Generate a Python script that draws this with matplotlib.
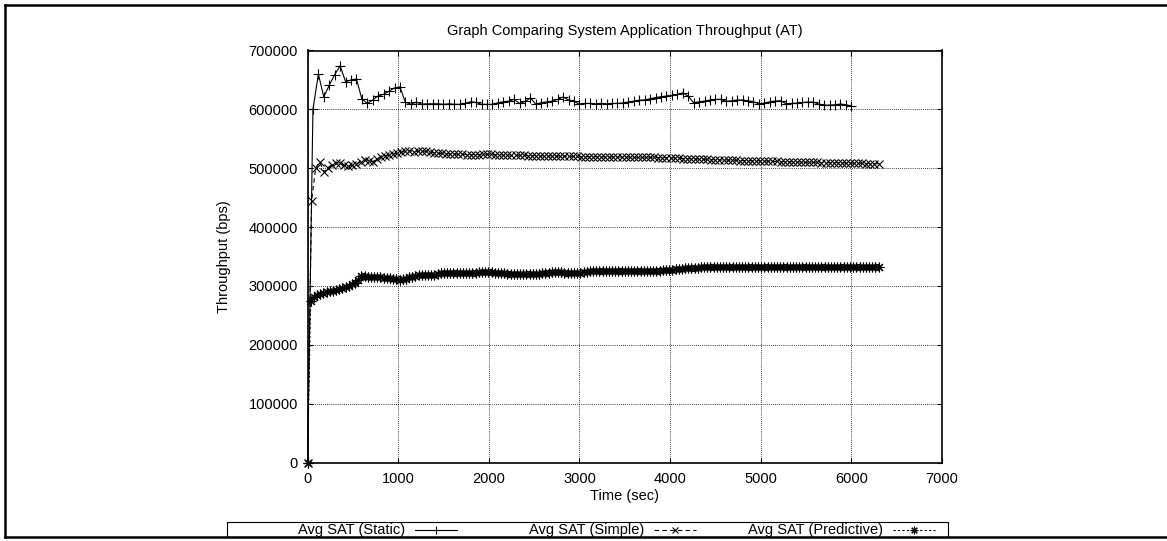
import matplotlib
matplotlib.use("Agg")
import matplotlib.pyplot as plt
import numpy as np
from matplotlib.lines import Line2D
from matplotlib.patches import Rectangle
from matplotlib.ticker import MultipleLocator, FuncFormatter

plt.rcParams['font.family'] = ['Liberation Sans', 'DejaVu Sans']
plt.rcParams['font.size'] = 10.5

# sampling step (sec) of each series
static_step = 60
simple_step = 45
pred_step = 35

# Avg SAT (Static), bps
static_bps = [
    0, 600000, 660000, 621000, 641000, 659000, 674000, 647000, 650000, 651500,
    617500, 610000, 616000, 623000, 625500, 631000, 636500, 638000, 612000, 609000,
    612000, 609000, 609500, 609500, 609500, 608500, 609500, 608500, 608500, 610000,
    613000, 611800, 608500, 608500, 608500, 611000, 613000, 614000, 617000, 610000,
    613500, 619500, 608500, 611500, 612500, 614000, 617000, 621000, 616000, 614000,
    608500, 610000, 610000, 609000, 610000, 608500, 610000, 610000, 611000, 612500,
    614000, 615500, 616000, 618000, 620000, 621500, 622600, 623700, 625400, 628000,
    622500, 611200, 612900, 614000, 615800, 617000, 617000, 613500, 614700, 615800,
    615800, 614700, 612900, 609500, 610600, 612900, 614000, 614700, 609500, 610100,
    610600, 611800, 612400, 612400, 609000, 607200, 607200, 607800, 609000, 607800,
    605500,
]

# Avg SAT (Simple), bps
simple_bps = [
    0, 445000, 500000, 511000, 494000, 501000, 506000, 509000, 509000, 505000,
    503000, 505000, 507000, 511000, 514000, 512000, 511000, 516000, 519000, 521000,
    522000, 524000, 525000, 527000, 529000, 530000, 528000, 529000, 528500, 529000,
    528000, 526000, 525500, 525000, 524500, 524000, 524000, 523500, 523500, 523000,
    523000, 523000, 523000, 523500, 524000, 523500, 523000, 523000, 522500, 522500,
    522000, 522000, 522000, 522000, 521500, 521500, 521500, 521000, 521000, 521000,
    521000, 520500, 520500, 520500, 520500, 520000, 520000, 519500, 519500, 519500,
    519500, 519500, 519500, 519000, 519000, 519000, 519000, 519000, 519000, 518500,
    518500, 518500, 518500, 518500, 518500, 518500, 518000, 518000, 518000, 518000,
    517500, 517000, 516500, 516000, 516000, 515500, 515500, 515000, 515000, 514500,
    514500, 514000, 514000, 514000, 513500, 513500, 513000, 513000, 513000, 512500,
    512500, 512500, 512000, 512000, 511500, 511500, 511000, 511000, 511000, 510500,
    510500, 510500, 510000, 510000, 510000, 510000, 509500, 509500, 509500, 509500,
    509500, 509000, 509000, 509000, 508500, 508500, 508500, 508000, 508000, 508000,
    507500,
]

# Avg SAT (Predictive), bps
pred_bps = [
    0, 275000, 281000, 284000, 286000, 288000, 289500, 291000, 292000, 293500,
    294500, 296000, 297500, 300000, 302500, 305000, 310000, 316500, 317000, 316000,
    315500, 315000, 315500, 314500, 314000, 314000, 313000, 312500, 311500, 310500,
    311000, 312500, 314500, 316000, 317000, 318000, 318500, 318500, 318500, 318500,
    319000, 320000, 321500, 322500, 322500, 322000, 321500, 321500, 321500, 321500,
    321500, 321500, 322000, 322500, 323000, 323500, 324000, 323500, 323000, 322500,
    322000, 321500, 321500, 321000, 321000, 320500, 320500, 320500, 320500, 320500,
    320500, 320500, 320500, 321000, 321500, 322000, 322500, 323000, 323500, 323500,
    323000, 322500, 322500, 322500, 322000, 321500, 322000, 323000, 324000, 325000,
    325500, 326000, 326000, 325500, 325500, 325500, 326000, 326000, 325500, 325500,
    326000, 326000, 325500, 325500, 325500, 326000, 326000, 326000, 326000, 326000,
    326000, 326000, 326500, 326500, 327000, 327500, 328000, 328500, 329000, 330000,
    330500, 331000, 331000, 331000, 331500, 331500, 331500, 332000, 332000, 332000,
    332000, 332500, 332500, 332500, 332500, 332500, 332500, 332500, 332500, 332500,
    332500, 332500, 332500, 332500, 332000, 332000, 332000, 331500, 331500, 331500,
    331500, 331500, 331500, 331500, 332000, 332000, 332000, 332000, 332500, 332500,
    332500, 332500, 332500, 332500, 332500, 332000, 332000, 332000, 331500, 331500,
    331500, 331500, 331500, 331500, 331500, 331500, 331500, 331500, 331500, 331500,
    331500,
]

labels = ['Avg SAT (Static)', 'Avg SAT (Simple)', 'Avg SAT (Predictive)']

static_t = np.arange(len(static_bps)) * static_step
simple_t = np.arange(len(simple_bps)) * simple_step
pred_t = np.arange(len(pred_bps)) * pred_step

W, H = 1167, 541
fig = plt.figure(figsize=(W / 100, H / 100), dpi=100)
ax = fig.add_axes([307.5 / W, 1 - 462.5 / H, (942 - 307.5) / W, (462.5 - 50.5) / H])

styles = [
    dict(ls='-', marker='+', ms=7, mew=0.8),
    dict(ls=(0, (4, 3)), marker='x', ms=5.5, mew=0.8),
    dict(ls=(0, (2, 2)), marker=(8, 2, 0), ms=7, mew=0.8),
]

for t, v, st in zip([static_t, simple_t, pred_t], [static_bps, simple_bps, pred_bps], styles):
    ax.plot(t, v, color='black', lw=0.8, clip_on=False, zorder=3, **st)

ax.set_xlim(0, 7000)
ax.set_ylim(0, 700000)
ax.xaxis.set_major_locator(MultipleLocator(1000))
ax.yaxis.set_major_locator(MultipleLocator(100000))
ax.yaxis.set_major_formatter(FuncFormatter(lambda v, p: '%d' % v))
ax.xaxis.set_major_formatter(FuncFormatter(lambda v, p: '%d' % v))
ax.tick_params(direction='in', length=3.6, width=0.8, pad=6.8,
               top=True, right=True)
ax.grid(True, color='black', lw=0.6, ls=(0, (1, 1.5)))
for s in ax.spines.values():
    s.set_linewidth(1.2)

ax.set_title('Graph Comparing System Application Throughput (AT)', fontsize=10.5, pad=11)
ax.set_xlabel('Time (sec)')
ax.set_ylabel('Throughput (bps)')
ax.xaxis.set_label_coords(0.5, -0.064)
ax.yaxis.set_label_coords(-0.12, 0.5)


def fx(x):
    return x / W


def fy(y):
    return 1 - y / H


# legend box along the bottom, gnuplot style
fig.add_artist(Rectangle((fx(227), fy(537)), fx(948) - fx(227), fy(522) - fy(537),
                         transform=fig.transFigure, fill=False, lw=0.8, ec='black'))
text_right = [405, 644, 883]
ly = 530
for lab, xr, st in zip(labels, text_right, styles):
    fig.text(fx(xr), fy(ly), lab, ha='right', va='center', fontsize=10.5)
    x0, x1 = xr + 10, xr + 52
    fig.add_artist(Line2D([fx(x0), fx(x1)], [fy(ly), fy(ly)], transform=fig.transFigure,
                          color='black', lw=0.8, ls=st['ls']))
    fig.add_artist(Line2D([fx((x0 + x1) / 2)], [fy(ly)], transform=fig.transFigure,
                          color='black', ls='none', marker=st['marker'],
                          ms=st['ms'] - 1.5, mew=st['mew']))

# outer frame (top, left and bottom edges)
for xs, ys in [([5, W], [5, 5]), ([5, 5], [5, 537]), ([5, W], [537, 537])]:
    fig.add_artist(Line2D([fx(x) for x in xs], [fy(y) for y in ys],
                          transform=fig.transFigure, color='black', lw=1.8))

fig.savefig('out.png', dpi=100)
